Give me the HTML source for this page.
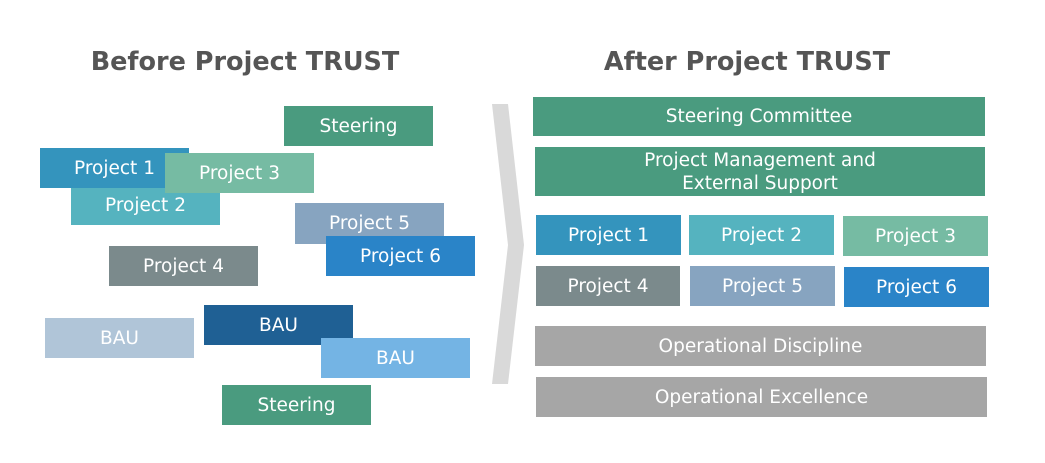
<!DOCTYPE html>
<html><head><meta charset="utf-8"><style>
body{margin:0;width:1045px;height:463px;background:#fff;position:relative;overflow:hidden;font-family:"DejaVu Sans","Liberation Sans",sans-serif;}
.b{position:absolute;color:#fff;font-size:18.5px;display:flex;align-items:center;justify-content:center;text-align:center;line-height:23px;white-space:nowrap;}
.t{position:absolute;font-weight:bold;font-size:25.5px;color:#555;text-align:center;top:47px;}
</style></head><body>
<div class="t" style="left:45px;width:400px">Before Project TRUST</div>
<div class="t" style="left:547px;width:400px">After Project TRUST</div>

<div class="b" style="left:284px;top:106px;width:149px;height:40px;background:#4a9b7f">Steering</div>
<div class="b" style="left:71px;top:185px;width:149px;height:40px;background:#55b3bf">Project 2</div>
<div class="b" style="left:40px;top:148px;width:149px;height:40px;background:#3494bd">Project 1</div>
<div class="b" style="left:165px;top:153px;width:149px;height:40px;background:#76bba3">Project 3</div>
<div class="b" style="left:295px;top:203px;width:149px;height:41px;background:#87a4c0">Project 5</div>
<div class="b" style="left:326px;top:236px;width:149px;height:40px;background:#2a84c8">Project 6</div>
<div class="b" style="left:109px;top:246px;width:149px;height:40px;background:#7b8a8c">Project 4</div>
<div class="b" style="left:45px;top:318px;width:149px;height:40px;background:#b0c5d8">BAU</div>
<div class="b" style="left:204px;top:305px;width:149px;height:40px;background:#1f6094">BAU</div>
<div class="b" style="left:321px;top:338px;width:149px;height:40px;background:#74b4e4">BAU</div>
<div class="b" style="left:222px;top:385px;width:149px;height:40px;background:#4a9b7f">Steering</div>

<svg style="position:absolute;left:0;top:0" width="1045" height="463"><polygon points="492,104 508,104 524,245 508,384 492,384 508,245" fill="#d9d9d9"/></svg>

<div class="b" style="left:533px;top:97px;width:452px;height:39px;background:#4a9b7f">Steering Committee</div>
<div class="b" style="left:535px;top:147px;width:450px;height:49px;background:#4a9b7f">Project Management and<br>External Support</div>
<div class="b" style="left:536px;top:215px;width:145px;height:40px;background:#3494bd">Project 1</div>
<div class="b" style="left:689px;top:215px;width:145px;height:40px;background:#55b3bf">Project 2</div>
<div class="b" style="left:843px;top:216px;width:145px;height:40px;background:#76bba3">Project 3</div>
<div class="b" style="left:536px;top:266px;width:144px;height:40px;background:#7b8a8c">Project 4</div>
<div class="b" style="left:690px;top:266px;width:145px;height:40px;background:#87a4c0">Project 5</div>
<div class="b" style="left:844px;top:267px;width:145px;height:40px;background:#2a84c8">Project 6</div>
<div class="b" style="left:535px;top:326px;width:451px;height:40px;background:#a6a6a6">Operational Discipline</div>
<div class="b" style="left:536px;top:377px;width:451px;height:40px;background:#a6a6a6">Operational Excellence</div>
</body></html>
